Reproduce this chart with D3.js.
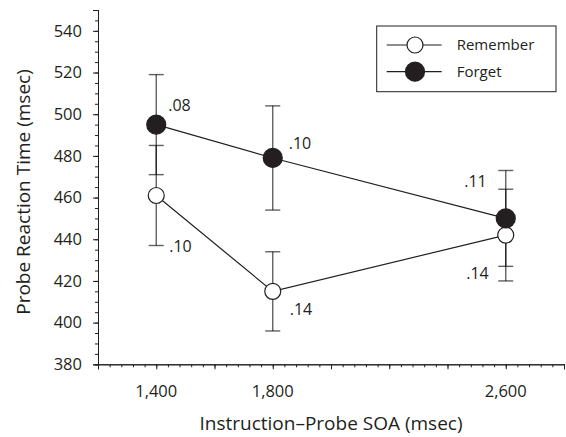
<!DOCTYPE html>
<html>
<head>
<meta charset="utf-8">
<script src="https://cdn.jsdelivr.net/npm/d3@7"></script>
<style>
  body { margin: 0; background: #fff; }
  svg text { font-family: "Open Sans", "Noto Sans", sans-serif; fill: #231f20; }
</style>
</head>
<body>
<svg id="chart" width="566" height="437"></svg>
<script>
// data
const soa = [1400, 1800, 2600];
const rememberRT = [461, 415, 442];
const rememberErr = [24, 19, 22];
const rememberLabels = ['.10', '.14', '.14'];
const forgetRT = [495, 479, 450];
const forgetErr = [24, 25, 23];
const forgetLabels = ['.08', '.10', '.11'];
const xTickLabels = [1400, 1800, 2600];

// label placement (pixels relative to the point)
const rememberLabelPos = [[13, 51, 'start'], [17, 18, 'start'], [-17, 38, 'end']];
const forgetLabelPos = [[12, -19, 'start'], [16, -15, 'start'], [-19, -37, 'end']];

const svg = d3.select('#chart');
const x = d3.scaleLinear().domain([1200, 2800]).range([98, 564]);
const y = d3.scaleLinear().domain([380, 550]).range([364.3, 10]);

// axes
const fmt = d3.format(',');
const xAxis = svg.append('g').attr('transform', `translate(0,${y(380)})`);
xAxis.call(d3.axisBottom(x).tickValues(d3.range(1200, 2801, 40)).tickSize(3).tickFormat(''));
xAxis.append('g').call(d3.axisBottom(x).tickValues(d3.range(1200, 2801, 200)).tickSize(5).tickFormat(''));
xAxis.selectAll('.domain').attr('stroke', '#231f20');
xAxis.selectAll('.tick line').attr('stroke', '#231f20');
xAxis.selectAll('.lab')
  .data(xTickLabels)
  .join('text')
    .attr('x', d => x(d))
    .attr('y', 33)
    .attr('text-anchor', 'middle')
    .attr('font-size', 16.5)
    .text(d => fmt(d));

const yAxis = svg.append('g').attr('transform', `translate(${x(1200)},0)`);
yAxis.call(d3.axisLeft(y).tickValues(d3.range(380, 551, 5)).tickSize(3).tickFormat(''));
yAxis.append('g').call(d3.axisLeft(y).tickValues(d3.range(380, 541, 20)).tickSize(5).tickFormat(''));
yAxis.selectAll('.domain').attr('stroke', '#231f20');
yAxis.selectAll('.tick line').attr('stroke', '#231f20');
yAxis.selectAll('.lab')
  .data(d3.range(380, 541, 20))
  .join('text')
    .attr('x', -16)
    .attr('y', d => y(d))
    .attr('dy', '0.35em')
    .attr('text-anchor', 'end')
    .attr('font-size', 16.5)
    .text(d => d);

svg.append('text')
  .attr('transform', `translate(30,192) rotate(-90)`)
  .attr('text-anchor', 'middle')
  .attr('font-size', 19)
  .text('Probe Reaction Time (msec)');

svg.append('text')
  .attr('x', 331)
  .attr('y', 430)
  .attr('text-anchor', 'middle')
  .attr('font-size', 19)
  .text('Instruction\u2013Probe SOA (msec)');

const series = [
  { name: 'Remember', rt: rememberRT, err: rememberErr, labels: rememberLabels, pos: rememberLabelPos, fill: '#fff', r: 8 },
  { name: 'Forget', rt: forgetRT, err: forgetErr, labels: forgetLabels, pos: forgetLabelPos, fill: '#231f20', r: 9.5 }
];

// error bars
const cap = 7.5;
series.forEach(s => {
  const g = svg.append('g').attr('stroke', '#000').attr('stroke-opacity', 0.62).attr('stroke-width', 1.4);
  soa.forEach((v, i) => {
    const cx = x(v), lo = y(s.rt[i] - s.err[i]), hi = y(s.rt[i] + s.err[i]);
    g.append('line').attr('x1', cx).attr('x2', cx).attr('y1', lo).attr('y2', hi);
    g.append('line').attr('x1', cx - cap).attr('x2', cx + cap).attr('y1', lo).attr('y2', lo);
    g.append('line').attr('x1', cx - cap).attr('x2', cx + cap).attr('y1', hi).attr('y2', hi);
  });
});

// lines
const line = d3.line().x((d, i) => x(soa[i])).y(d => y(d));
series.forEach(s => {
  svg.append('path')
    .attr('d', line(s.rt))
    .attr('fill', 'none')
    .attr('stroke', '#231f20')
    .attr('stroke-width', 1.2);
});

// markers and labels
series.forEach(s => {
  svg.append('g').selectAll('circle')
    .data(s.rt)
    .join('circle')
      .attr('cx', (d, i) => x(soa[i]))
      .attr('cy', d => y(d))
      .attr('r', s.r)
      .attr('fill', s.fill)
      .attr('stroke', '#231f20')
      .attr('stroke-width', 1.2);
  svg.append('g').selectAll('text')
    .data(s.labels)
    .join('text')
      .attr('x', (d, i) => x(soa[i]) + s.pos[i][0])
      .attr('y', (d, i) => y(s.rt[i]) + s.pos[i][1])
      .attr('dy', '0.35em')
      .attr('text-anchor', (d, i) => s.pos[i][2])
      .attr('font-size', 16)
      .text(d => d);
});

// legend
const legend = svg.append('g');
legend.append('rect')
  .attr('x', 376.7).attr('y', 26)
  .attr('width', 179.3).attr('height', 65.7)
  .attr('fill', '#fff')
  .attr('stroke', '#231f20')
  .attr('stroke-width', 1);
series.forEach((s, i) => {
  const ly = 45 + i * 26.7;
  legend.append('line')
    .attr('x1', 386.7).attr('x2', 441.7)
    .attr('y1', ly).attr('y2', ly)
    .attr('stroke', '#231f20').attr('stroke-width', 1.2);
  legend.append('circle')
    .attr('cx', 415).attr('cy', ly).attr('r', s.r)
    .attr('fill', s.fill).attr('stroke', '#231f20').attr('stroke-width', 1.2);
  legend.append('text')
    .attr('x', 456.7).attr('y', ly)
    .attr('dy', '0.35em')
    .attr('font-size', 15)
    .text(s.name);
});
</script>
</body>
</html>
